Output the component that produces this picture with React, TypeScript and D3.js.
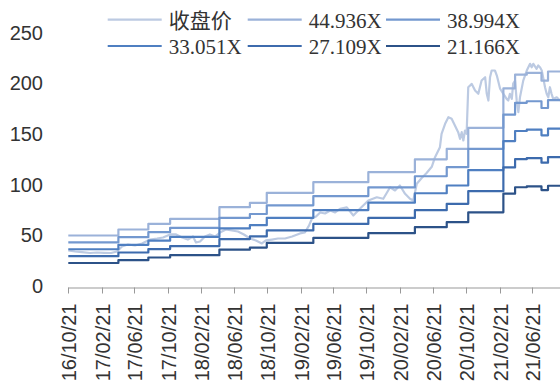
import React, { useMemo } from 'react';
import * as d3 from 'd3';

const W = 560;
const H = 385;
const PLOT_LEFT = 68.3;
const PLOT_RIGHT = 560;
const Y_BOTTOM = 287.5;
const Y_TOP = 34;

const START_DATE = '2016-10-21';
const END_DATE = '2021-10-01';

const Y_TICKS = [0, 50, 100, 150, 200, 250];
const X_TICKS = [
  '2016-10-21', '2017-02-21', '2017-06-21', '2017-10-21', '2018-02-21',
  '2018-06-21', '2018-10-21', '2019-02-21', '2019-06-21', '2019-10-21',
  '2020-02-21', '2020-06-21', '2020-10-21', '2021-02-21', '2021-06-21',
];

// closing price
const PRICE_DATES = [
  '2016-10-21', '2016-11-15', '2016-12-10', '2017-01-09', '2017-02-03', '2017-03-01',
  '2017-03-27', '2017-04-18', '2017-05-06', '2017-05-28', '2017-06-23', '2017-07-19',
  '2017-08-17', '2017-09-12', '2017-10-04', '2017-10-30', '2017-11-21', '2017-12-13',
  '2018-01-03', '2018-01-22', '2018-02-02', '2018-02-17', '2018-03-07', '2018-03-25',
  '2018-04-13', '2018-05-01', '2018-05-23', '2018-06-14', '2018-07-06', '2018-07-28',
  '2018-08-19', '2018-09-10', '2018-10-02', '2018-10-17', '2018-11-08', '2018-11-30',
  '2018-12-26', '2019-01-21', '2019-02-19', '2019-03-09', '2019-03-24', '2019-04-04',
  '2019-04-19', '2019-05-04', '2019-05-22', '2019-06-10', '2019-06-28', '2019-07-16',
  '2019-08-10', '2019-09-03', '2019-09-27', '2019-10-28', '2019-11-28', '2019-12-22',
  '2020-01-16', '2020-02-03', '2020-02-21', '2020-03-11', '2020-03-29', '2020-04-10',
  '2020-04-23', '2020-05-11', '2020-05-29', '2020-06-17', '2020-06-29', '2020-07-17',
  '2020-07-23', '2020-08-05', '2020-08-17', '2020-08-29', '2020-09-10', '2020-09-22',
  '2020-09-29', '2020-10-05', '2020-10-11', '2020-10-17', '2020-10-23', '2020-10-29',
  '2020-11-11', '2020-11-23', '2020-12-05', '2020-12-17', '2020-12-30', '2021-01-05',
  '2021-01-11', '2021-01-17', '2021-01-23', '2021-02-04', '2021-02-11', '2021-02-23',
  '2021-03-07', '2021-03-19', '2021-03-25', '2021-03-31', '2021-04-07', '2021-04-12',
  '2021-04-19', '2021-04-25', '2021-05-01', '2021-05-07', '2021-05-19', '2021-06-01',
  '2021-06-13', '2021-06-19', '2021-06-25', '2021-07-07', '2021-07-13', '2021-07-20',
  '2021-07-26', '2021-08-01', '2021-08-07', '2021-08-13', '2021-08-19', '2021-08-25',
  '2021-08-31', '2021-09-06', '2021-09-19', '2021-10-01',
];
const PRICE_VALUES = [
  36.5, 35.5, 34.8, 34, 34.5, 34.2,
  34, 35.5, 40.4, 42.4, 41.4, 43.4,
  47.3, 48.3, 49.3, 52.3, 52.3, 49.3,
  47.3, 50.3, 44.4, 45.4, 50.3, 52.3,
  50.3, 54.2, 57.2, 56.2, 55.2, 52.3,
  48.3, 46.4, 43.4, 46.4, 47.3, 48.3,
  48.3, 50.3, 53.3, 54.2, 61, 68,
  70, 74, 73, 76, 74, 77.6,
  79, 71, 77.6, 85.8, 89, 87.5,
  98.9, 95.7, 100.6, 92.4, 87.5, 85.8,
  102.3, 108, 113, 119, 128.5, 138.4,
  151.6, 161.4, 168, 166.4, 159.8, 153.2,
  146.6, 153.2, 145, 154.8, 151.6, 197.5,
  200.8, 194.3, 191, 204.1, 207.4, 191,
  184.4, 207.4, 214, 214, 209, 196,
  191, 186, 184.4, 191, 186, 201,
  204, 184, 173, 187.6, 204, 214,
  220.6, 217.2, 220.6, 215.7, 219, 217,
  214, 206, 197.5, 191, 187.6, 197.5,
  191, 186, 187.6, 184.4,
];

// EPS used for the PE bands (step changes)
const EPS_DATES = [
  '2016-10-21', '2017-04-23', '2017-08-11', '2017-10-30', '2018-04-29', '2018-08-19',
  '2018-10-20', '2019-04-09', '2019-10-28', '2020-04-16', '2020-08-11', '2020-10-29',
  '2021-03-07', '2021-04-19', '2021-06-01', '2021-07-25', '2021-08-18',
];
const EPS_VALUES = [
  1.141, 1.273, 1.398, 1.508, 1.762, 1.859,
  2.078, 2.311, 2.53, 2.813, 3.044, 3.505,
  4.37, 4.67, 4.71, 4.54, 4.74,
];

const PRICE_NAME = '收盘价';
const PRICE_COLOR = '#bccae2';
const BAND_NAMES = ['44.936X', '38.994X', '33.051X', '27.109X', '21.166X'];
const BAND_MULTIPLES = [44.936, 38.994, 33.051, 27.109, 21.166];
const BAND_COLORS = ['#9bb2d9', '#7398cf', '#4f7fc1', '#3d6bad', '#2c5288'];

const parse = d3.timeParse('%Y-%m-%d');
const fmt = d3.timeFormat('%y/%m/%d');

const LEGEND_COLS = [107.7, 247.7, 386];
const LEGEND_ROWS = [19.7, 46];

export default function App() {
  const x = useMemo(
    () => d3.scaleTime().domain([parse(START_DATE)!, parse(END_DATE)!]).range([PLOT_LEFT, PLOT_RIGHT]),
    []
  );
  const y = useMemo(() => d3.scaleLinear().domain([0, 250]).range([Y_BOTTOM, Y_TOP]), []);

  const pricePath = useMemo(() => {
    const pts = PRICE_DATES.map((d, i) => ({ date: parse(d)!, v: PRICE_VALUES[i] }));
    return d3.line<{ date: Date; v: number }>().x((d) => x(d.date)).y((d) => y(d.v))(pts) ?? '';
  }, [x, y]);

  const bandPaths = useMemo(() => {
    const line = d3
      .line<{ date: Date; v: number }>()
      .x((d) => x(d.date))
      .y((d) => y(d.v))
      .curve(d3.curveStepAfter);
    return BAND_MULTIPLES.map((m) => {
      const pts = EPS_DATES.map((d, i) => ({ date: parse(d)!, v: EPS_VALUES[i] * m }));
      pts.push({ date: parse(END_DATE)!, v: EPS_VALUES[EPS_VALUES.length - 1] * m });
      return line(pts) ?? '';
    });
  }, [x, y]);

  const legend = [
    { name: PRICE_NAME, color: PRICE_COLOR },
    ...BAND_NAMES.map((n, i) => ({ name: n, color: BAND_COLORS[i] })),
  ];

  const axisY = y(0);

  return (
    <svg
      width={W}
      height={H}
      viewBox={`0 0 ${W} ${H}`}
      style={{ position: 'absolute', left: 0, top: 0, background: '#fff' }}
    >
      {/* y labels */}
      {Y_TICKS.map((t) => (
        <text
          key={t}
          x={43}
          y={y(t) - 1.5}
          textAnchor="end"
          dominantBaseline="central"
          fontFamily="'Liberation Sans', Arial, sans-serif"
          fontSize={20}
          fill="#333"
        >
          {t}
        </text>
      ))}

      {/* lines */}
      <path d={pricePath} fill="none" stroke={PRICE_COLOR} strokeWidth={2.2} strokeLinejoin="round" />
      {bandPaths.map((p, i) => (
        <path key={i} d={p} fill="none" stroke={BAND_COLORS[i]} strokeWidth={2.2} strokeLinejoin="round" />
      ))}

      {/* x axis */}
      <line x1={PLOT_LEFT} x2={PLOT_RIGHT} y1={axisY + 0.5} y2={axisY + 0.5} stroke="#999" strokeWidth={1} />
      {X_TICKS.map((t) => {
        const tx = Math.round(x(parse(t)!)) + 0.5;
        return (
          <g key={t}>
            <line x1={tx} x2={tx} y1={axisY} y2={axisY + 6} stroke="#999" strokeWidth={1} />
            <text
              transform={`translate(${tx},${axisY + 16}) rotate(-90)`}
              textAnchor="end"
              dominantBaseline="central"
              fontFamily="'Liberation Sans', Arial, sans-serif"
              fontSize={20}
              fill="#333"
            >
              {fmt(parse(t)!)}
            </text>
          </g>
        );
      })}

      {/* legend */}
      {legend.map((l, i) => {
        const lx = LEGEND_COLS[i % 3];
        const ly = LEGEND_ROWS[Math.floor(i / 3)];
        return (
          <g key={l.name}>
            <line x1={lx} x2={lx + 54} y1={ly} y2={ly} stroke={l.color} strokeWidth={2.2} />
            <text
              x={lx + 61}
              y={ly + 1}
              dominantBaseline="central"
              fontFamily="'Liberation Serif', 'Noto Sans CJK SC', serif"
              fontSize={21}
              fill="#333"
            >
              {l.name}
            </text>
          </g>
        );
      })}
    </svg>
  );
}
